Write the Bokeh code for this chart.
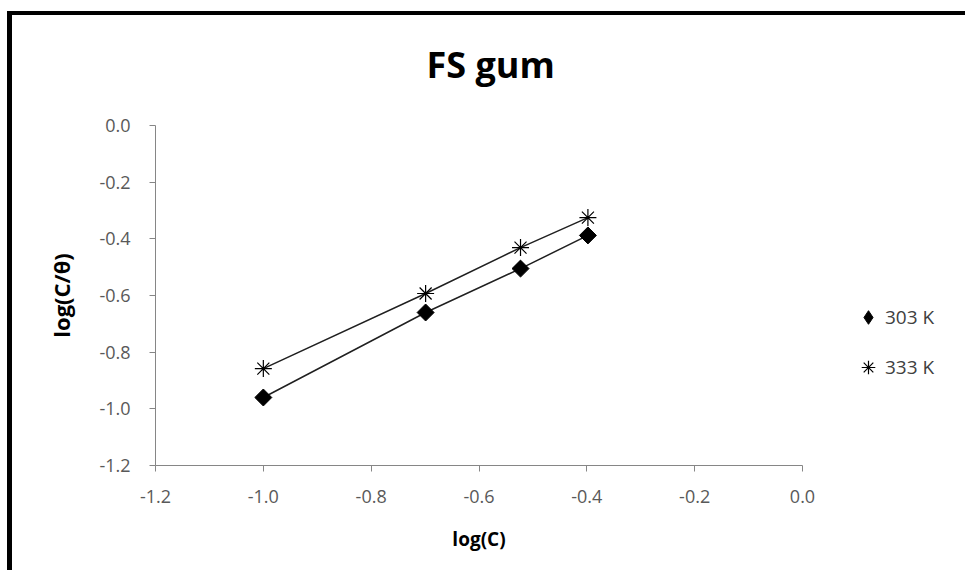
from bokeh.plotting import figure
from bokeh.models import (Range1d, FixedTicker, PrintfTickFormatter, Legend, LegendItem, Title,
                          ColumnDataSource)
from bokeh.embed import file_html
from bokeh.resources import INLINE
import numpy as np

# ---- data ----
log_c = [-1.0, -0.699, -0.523, -0.398]
log_c_theta_303 = [-0.960, -0.660, -0.505, -0.388]
log_c_theta_333 = [-0.858, -0.593, -0.431, -0.325]
series_labels = ["303 K", "333 K"]
ticks = [-1.2, -1.0, -0.8, -0.6, -0.4, -0.2, 0.0]

FONT = "Open Sans"

src = ColumnDataSource(data=dict(x=log_c, y303=log_c_theta_303, y333=log_c_theta_333))

p = figure(
    frame_width=647, frame_height=340,
    x_range=Range1d(-1.2, 0.0), y_range=Range1d(-1.2, 0.0),
    output_backend="svg", toolbar_location=None,
    min_border_left=143, min_border_top=110, min_border_right=155, min_border_bottom=105,
)
p.margin = (11, 0, 0, 7)
p.styles = {"border-left": "5px solid black", "border-top": "4px solid black"}

# second (blank) line lifts the title well above the plot area
p.title = Title(text="FS gum\n ", text_font=FONT, text_font_size="36px",
                text_font_style="bold", text_color="black", align="left",
                offset=271, standoff=4, text_line_height=0.7)

p.outline_line_color = None
p.xgrid.grid_line_color = None
p.ygrid.grid_line_color = None
p.background_fill_color = "white"
p.border_fill_color = "white"

for ax in (p.xaxis[0], p.yaxis[0]):
    ax.ticker = FixedTicker(ticks=ticks)
    ax.formatter = PrintfTickFormatter(format="%.1f")
    ax.axis_line_color = "#868686"
    ax.major_tick_line_color = "#868686"
    ax.minor_tick_line_color = None
    ax.major_tick_out = 6
    ax.major_tick_in = 0
    ax.major_label_text_font = FONT
    ax.major_label_text_font_size = "18px"
    ax.major_label_text_color = "#595959"
    ax.axis_label_text_font = FONT
    ax.axis_label_text_font_style = "bold"
    ax.axis_label_text_color = "black"

p.xaxis[0].axis_label = "log(C)"
p.yaxis[0].axis_label = "log(C/θ)"
p.xaxis[0].axis_label_text_font_size = "19px"
p.yaxis[0].axis_label_text_font_size = "22px"
p.xaxis[0].major_label_standoff = 18
p.yaxis[0].major_label_standoff = 19
p.xaxis[0].axis_label_standoff = 20
p.yaxis[0].axis_label_standoff = 20

p.line("x", "y303", source=src, line_color="#202020", line_width=1.5)
p.line("x", "y333", source=src, line_color="#202020", line_width=1.5)
# tiny diamond under the 303 K markers: gives the key a diamond glyph
k1 = p.scatter("x", "y303", source=src, marker="diamond", size=1,
               fill_color="black", line_color="black")
s1 = p.scatter("x", "y303", source=src, marker="square", angle=np.pi / 4, size=12,
               fill_color="black", line_color="black")
s2 = p.scatter("x", "y333", source=src, marker="asterisk", size=17,
               line_color="black", line_width=1.2)

legend = Legend(items=[LegendItem(label=series_labels[0], renderers=[k1]),
                       LegendItem(label=series_labels[1], renderers=[s2])],
                location=(49, 78), spacing=10, padding=0, margin=0,
                glyph_width=34, glyph_height=40, label_standoff=0,
                label_text_font=FONT, label_text_font_size="19px",
                label_text_color="#404040", border_line_color=None,
                background_fill_alpha=0)
p.add_layout(legend, "right")

open("out.html", "w").write(file_html(p, INLINE))
